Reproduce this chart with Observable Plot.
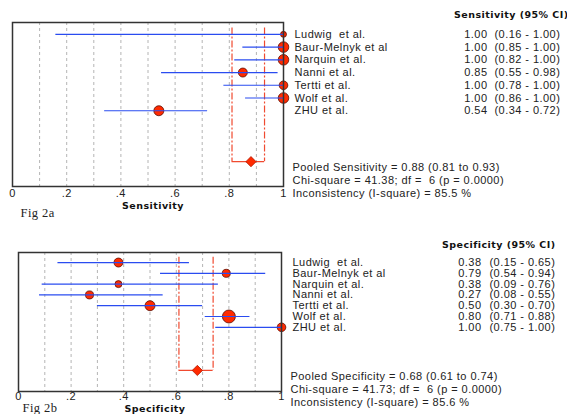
<!DOCTYPE html>
<html><head><meta charset="utf-8">
<script src="https://cdn.jsdelivr.net/npm/d3@7"></script>
<script src="https://cdn.jsdelivr.net/npm/@observablehq/plot@0.6"></script>
<style>
body{margin:0;background:#fff;}
#c{width:567px;height:414px;overflow:hidden;}
svg{display:block;}
svg text{white-space:pre;}
</style>
</head><body><div id="c"></div>
<script>
const studies = ["Ludwig  et al.", "Baur-Melnyk et al", "Narquin et al.", "Nanni et al.", "Tertti et al.", "Wolf et al.", "ZHU et al."];
const sens = [1.00, 1.00, 1.00, 0.85, 1.00, 1.00, 0.54];
const sensLo = [0.16, 0.85, 0.82, 0.55, 0.78, 0.86, 0.34];
const sensHi = [1.00, 1.00, 1.00, 0.98, 1.00, 1.00, 0.72];
const sensWeight = [18, 57, 57, 41, 38, 57, 51];
const spec = [0.38, 0.79, 0.38, 0.27, 0.50, 0.80, 1.00];
const specLo = [0.15, 0.54, 0.09, 0.08, 0.30, 0.71, 0.75];
const specHi = [0.65, 0.94, 0.76, 0.55, 0.70, 0.88, 1.00];
const specWeight = [41, 33, 25, 33, 51, 86, 38];
const pooledSens = {est: 0.88, lo: 0.81, hi: 0.93};
const pooledSpec = {est: 0.68, lo: 0.61, hi: 0.74};
const sensStats = ["Pooled Sensitivity = 0.88 (0.81 to 0.93)", "Chi-square = 41.38; df =  6 (p = 0.0000)", "Inconsistency (I-square) = 85.5 %"];
const specStats = ["Pooled Specificity = 0.68 (0.61 to 0.74)", "Chi-square = 41.73; df =  6 (p = 0.0000)", "Inconsistency (I-square) = 85.6 %"];
const gridValues = [0.1, 0.2, 0.3, 0.4, 0.5, 0.6, 0.7, 0.8, 0.9];

const fmt = d3.format(".2f");
const tickFmt = d => d === 0 ? "0" : d === 1 ? "1" : String(+d.toFixed(1)).replace(/^0/, "");
const RED = "#ff2a00", BLUE = "#2a4cf0", CIRED = "#f04a30";
const SANS = "Liberation Sans, Arial, sans-serif";
const BOLD = "DejaVu Sans, Verdana, sans-serif";

function panel(o) {
  const idx = o.est.map((d, i) => i);
  return Plot.plot({
    width: 567, height: o.height,
    marginLeft: o.ml, marginRight: 567 - o.xr, marginTop: o.mt, marginBottom: o.height - o.yb,
    style: {fontFamily: SANS, fontSize: "11px", background: "#fff", color: "#222", letterSpacing: "0.45px"},
    x: {domain: [0, 1], ticks: 5, tickSize: 0, tickPadding: o.tp, tickFormat: tickFmt, label: null},
    y: {domain: [-0.93, 11.95], reverse: true, axis: null},
    r: {type: "sqrt", domain: [0, 100], range: [0, 7]},
    marks: [
      Plot.ruleX(gridValues, {stroke: "#b4b4b4", strokeDasharray: "3,3"}),
      Plot.ruleX([o.pooled.lo, o.pooled.hi], {x: d => d, y1: -0.5, y2: 10, stroke: CIRED, strokeWidth: 1.2, strokeDasharray: "7,2,2,2"}),
      Plot.ruleY([10], {x1: o.pooled.lo, x2: o.pooled.hi, stroke: CIRED, strokeWidth: 1.2}),
      Plot.dot(idx, {x: i => o.est[i], y: i => i, r: i => o.weight[i], fill: RED, stroke: "#5a0c00", strokeWidth: 0.8}),
      Plot.ruleY(idx, {y: i => i, x1: i => o.lo[i], x2: i => o.hi[i], stroke: BLUE, strokeWidth: 1.2}),
      Plot.dot([o.pooled], {x: "est", y: () => 10, symbol: "diamond2", r: 4.6, fill: RED, stroke: "#b01800", strokeWidth: 0.8}),
      Plot.frame({stroke: "#333", strokeWidth: 1.5}),
      Plot.text(studies, {x: 1, y: (d, i) => i, dx: 11, textAnchor: "start", fill: "#222"}),
      Plot.text(idx, {x: 1, y: i => i, text: i => fmt(o.est[i]), dx: o.vdx, textAnchor: "end", fill: "#222"}),
      Plot.text(idx, {x: 1, y: i => i, text: i => `(${fmt(o.lo[i])} - ${fmt(o.hi[i])})`, dx: o.cdx, textAnchor: "start", fill: "#222"}),
      Plot.text([o.header], {x: 1, y: o.hy, dx: o.hdx, textAnchor: "end", fontFamily: BOLD, fontWeight: "bold", fontSize: 9.5, fill: "#111"}),
      Plot.text(o.stats, {x: 1, y: (d, i) => o.sy[i], dx: 9, textAnchor: "start", fill: "#222"}),
      Plot.text([o.label], {frameAnchor: "bottom", lineAnchor: "middle", dy: o.ldy, dx: 5, fontFamily: BOLD, fontWeight: "bold", fontSize: 9.5, fill: "#111"}),
      Plot.text([o.fig], {frameAnchor: "bottom-left", lineAnchor: "middle", textAnchor: "start", dx: o.fdx, dy: o.fdy, fontFamily: "Liberation Serif, Times New Roman, serif", fontSize: 12.5, fill: "#222"})
    ]
  });
}

const c = document.getElementById("c");
c.append(panel({
  est: sens, lo: sensLo, hi: sensHi, weight: sensWeight, pooled: pooledSens,
  height: 220, ml: 12, xr: 283, mt: 22, yb: 186, tp: 3,
  vdx: 204, cdx: 211, hdx: 285, hy: -1.49, sy: [10.46, 11.48, 12.5],
  header: "Sensitivity (95% CI)", stats: sensStats, label: "Sensitivity", ldy: 19, fig: "Fig 2a", fdx: 8, fdy: 26
}));
c.append(panel({
  est: spec, lo: specLo, hi: specHi, weight: specWeight, pooled: pooledSpec,
  height: 194, ml: 18, xr: 281, mt: 32, yb: 171, tp: 1,
  vdx: 200, cdx: 208, hdx: 274, hy: -1.6, sy: [10.6, 11.8, 13.0],
  header: "Specificity (95% CI)", stats: specStats, label: "Specificity", ldy: 17, fig: "Fig 2b", fdx: 4, fdy: 16
}));
</script>
</body></html>
